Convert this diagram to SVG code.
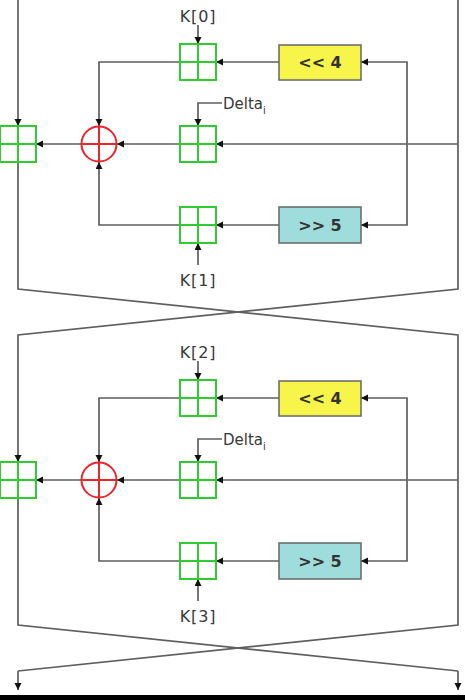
<svg xmlns="http://www.w3.org/2000/svg" width="465" height="700" viewBox="0 0 465 700">
<style>
.ln{fill:none;stroke:#5e5e5e;stroke-width:1.7}
.ar{marker-end:url(#ah)}
.add rect{fill:#fff;stroke:#2fcc2f;stroke-width:2}
.add path{stroke:#2fcc2f;stroke-width:2;fill:none}
.xor circle{fill:#fff;stroke:#e8262b;stroke-width:2}
.xor path{stroke:#e8262b;stroke-width:2;fill:none}
.shl rect{fill:#f7f54a;stroke:#666;stroke-width:1.5}
.shr rect{fill:#9fdcdc;stroke:#666;stroke-width:1.5}
text{font-family:"DejaVu Sans","Liberation Sans",sans-serif;fill:#3a3a3a}
.lb{font-size:16px;text-anchor:middle;letter-spacing:0.8px}
.op{font-size:16px;text-anchor:middle;font-weight:bold;fill:#333}
.dl{font-size:15px}
</style>
<defs>
<marker id="ah" markerUnits="userSpaceOnUse" markerWidth="8" markerHeight="8" refX="7" refY="3.5" orient="auto">
<path d="M0,0 L7,3.5 L0,7 z" fill="#111"/>
</marker>
</defs>
<rect x="0" y="0" width="465" height="700" fill="#fff"/>
<g id="connectors">
<path class="ln ar" d="M18,0 V126"/>
<path class="ln" d="M18,162 V289 L458,335 V625 L18,671"/>
<path class="ln ar" d="M18,671 V690"/>
<path class="ln ar" d="M458,0 V289 L18,335 V462"/>
<path class="ln" d="M18,498 V625 L458,671"/>
<path class="ln ar" d="M458,671 V690"/>
<!-- round 1 -->
<path class="ln ar" d="M458,144 H216"/>
<path class="ln ar" d="M407,144 V62 H361"/>
<path class="ln ar" d="M407,144 V225 H361"/>
<path class="ln ar" d="M279,62 H216"/>
<path class="ln ar" d="M198,25 V44"/>
<path class="ln ar" d="M180,62 H99 V126"/>
<path class="ln ar" d="M222,103 H198 V126"/>
<path class="ln ar" d="M180,144 H117"/>
<path class="ln ar" d="M81,144 H36"/>
<path class="ln ar" d="M279,225 H216"/>
<path class="ln ar" d="M198,265 V243"/>
<path class="ln ar" d="M180,225 H99 V162"/>
<!-- round 2 -->
<path class="ln ar" d="M458,480 H216"/>
<path class="ln ar" d="M407,480 V398 H361"/>
<path class="ln ar" d="M407,480 V561 H361"/>
<path class="ln ar" d="M279,398 H216"/>
<path class="ln ar" d="M198,361 V380"/>
<path class="ln ar" d="M180,398 H99 V462"/>
<path class="ln ar" d="M222,439 H198 V462"/>
<path class="ln ar" d="M180,480 H117"/>
<path class="ln ar" d="M81,480 H36"/>
<path class="ln ar" d="M279,561 H216"/>
<path class="ln ar" d="M198,601 V579"/>
<path class="ln ar" d="M180,561 H99 V498"/>
</g>
<!-- round 1 nodes -->
<g id="addL1" class="add"><rect x="0" y="126" width="36" height="36"/><path d="M18,126 V162 M0,144 H36"/></g>
<g id="xor1" class="xor"><circle cx="99" cy="144" r="17.5"/><path d="M99,126.5 V161.5 M81.5,144 H116.5"/></g>
<g id="addK0" class="add"><rect x="180" y="44" width="36" height="36"/><path d="M198,44 V80 M180,62 H216"/></g>
<g id="addD1" class="add"><rect x="180" y="126" width="36" height="36"/><path d="M198,126 V162 M180,144 H216"/></g>
<g id="addK1" class="add"><rect x="180" y="207" width="36" height="36"/><path d="M198,207 V243 M180,225 H216"/></g>
<g id="shl1" class="shl"><rect x="279" y="45" width="82" height="35"/><text class="op" x="320" y="68">&lt;&lt; 4</text></g>
<g id="shr1" class="shr"><rect x="279" y="207" width="82" height="36"/><text class="op" x="320" y="231">&gt;&gt; 5</text></g>
<g id="lblK0"><text class="lb" x="198" y="22">K[0]</text></g>
<g id="lblK1"><text class="lb" x="198" y="286">K[1]</text></g>
<g id="lblD1"><text class="dl" x="223" y="109">Delta<tspan font-size="10" dy="5">i</tspan></text></g>
<!-- round 2 nodes -->
<g id="addL2" class="add"><rect x="0" y="462" width="36" height="36"/><path d="M18,462 V498 M0,480 H36"/></g>
<g id="xor2" class="xor"><circle cx="99" cy="480" r="17.5"/><path d="M99,462.5 V497.5 M81.5,480 H116.5"/></g>
<g id="addK2" class="add"><rect x="180" y="380" width="36" height="36"/><path d="M198,380 V416 M180,398 H216"/></g>
<g id="addD2" class="add"><rect x="180" y="462" width="36" height="36"/><path d="M198,462 V498 M180,480 H216"/></g>
<g id="addK3" class="add"><rect x="180" y="543" width="36" height="36"/><path d="M198,543 V579 M180,561 H216"/></g>
<g id="shl2" class="shl"><rect x="279" y="381" width="82" height="35"/><text class="op" x="320" y="404">&lt;&lt; 4</text></g>
<g id="shr2" class="shr"><rect x="279" y="543" width="82" height="36"/><text class="op" x="320" y="567">&gt;&gt; 5</text></g>
<g id="lblK2"><text class="lb" x="198" y="358">K[2]</text></g>
<g id="lblK3"><text class="lb" x="198" y="622">K[3]</text></g>
<g id="lblD2"><text class="dl" x="223" y="445">Delta<tspan font-size="10" dy="5">i</tspan></text></g>
<rect x="0" y="695" width="465" height="5" fill="#000"/>
</svg>
